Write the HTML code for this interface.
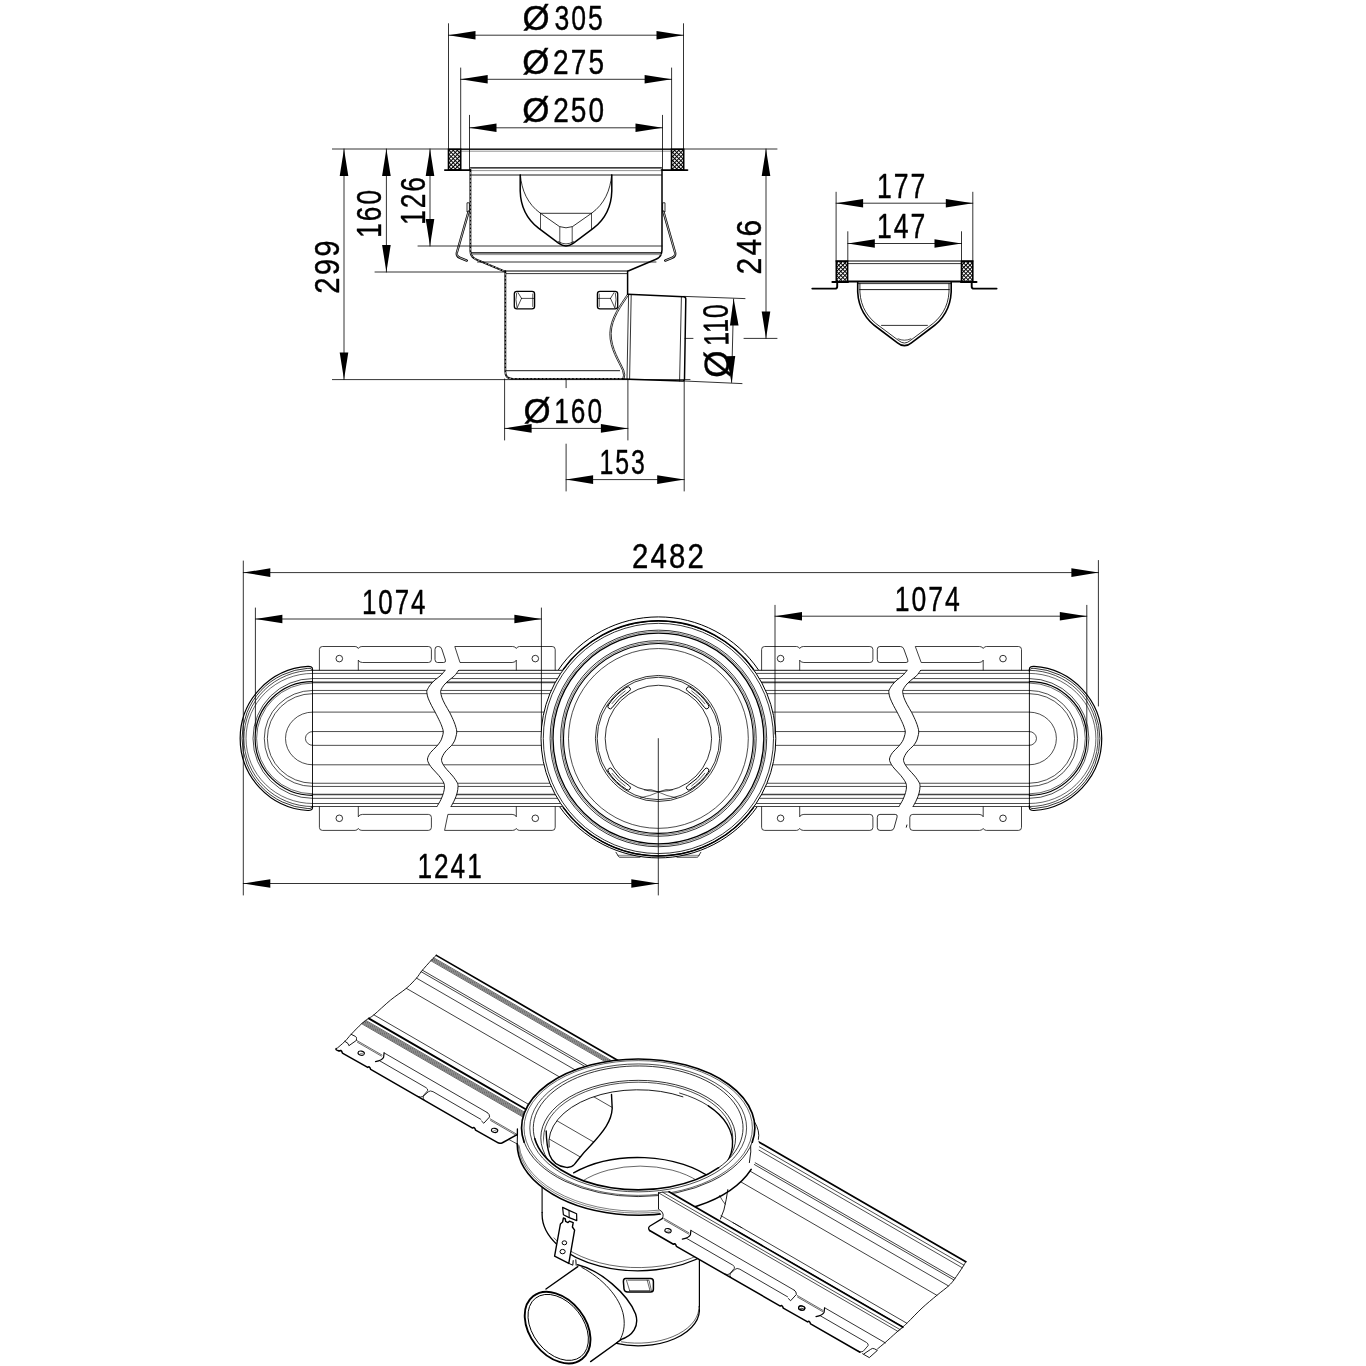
<!DOCTYPE html>
<html lang="en">
<head>
<meta charset="utf-8">
<title>Technical drawing</title>
<style>
html,body{margin:0;padding:0;background:#fff;}
body{width:1366px;height:1366px;overflow:hidden;}
svg{display:block;will-change:transform;}
.t{font-family:"Liberation Sans",sans-serif;font-size:35px;fill:#000;stroke:#000;stroke-width:0.4px;stroke-linejoin:round;}
.k{stroke:#000;fill:none;stroke-linecap:round;stroke-linejoin:round;}
.c{stroke:#000;fill:none;}
.a{fill:#000;stroke:none;}
</style>
</head>
<body>
<svg width="1366" height="1366" viewBox="0 0 1366 1366">
<defs>
<pattern id="hx" width="2.9" height="2.9" patternUnits="userSpaceOnUse" patternTransform="rotate(45)">
<path d="M0,0.5H2.9M0.5,0V2.9" stroke="#000" stroke-width="1.05" fill="none"/>
</pattern>
</defs>
<rect width="1366" height="1366" fill="#fff"/>
<g id="section">
<path class="k" d="M460.8,149.3L671.4,149.3" stroke-width="1"/>
<path class="k" d="M460.8,151.2L671.4,151.2" stroke-width="0.8" style="stroke:#777"/>
<rect x="448.5" y="149.3" width="12.2" height="20.6" fill="url(#hx)" stroke="#000" stroke-width="1.6"/>
<rect x="671.5" y="149.3" width="12.2" height="20.6" fill="url(#hx)" stroke="#000" stroke-width="1.6"/>
<path class="k" d="M444.9,170.1L470.5,170.1" stroke-width="1.9"/>
<path class="k" d="M661.5,170.1L687.4,170.1" stroke-width="1.9"/>
<path class="k" d="M470.5,167.9L661.5,167.9" stroke-width="1.2"/>
<path class="k" d="M470.5,170.6L661.5,170.6" stroke-width="0.9" style="stroke:#888"/>
<path class="k" d="M471.5,175L661.5,175" stroke-width="0.9"/>
<path class="k" d="M470.4,170 L470.4,251 Q470.6,257 476,259.3 L504.6,271.3 L505.3,271.3 L505.3,371.5 Q505.5,378.9 513,378.9 L622.5,378.9" stroke-width="1.9"/>
<path class="k" d="M470.4,172 L470.4,251 Q470.6,257 476,259.3 L504.6,271.3 M505.3,273 L505.3,371.5 Q505.5,378.9 513,378.9 L622,378.9" stroke-width="0.6" style="stroke:#fff;stroke-dasharray:2.4 1.4;stroke-linecap:butt"/>
<path class="k" d="M662,170 L662,250 Q661.8,257 656,259.3 L627.6,271.2 L627.6,294.2" stroke-width="1.5"/>
<path class="k" d="M471.5,252.9L661.5,252.9" stroke-width="1.3"/>
<path class="k" d="M471.5,254.6L661.5,254.6" stroke-width="0.8" style="stroke:#777"/>
<path class="k" d="M477.5,262L656,262" stroke-width="0.8"/>
<path class="k" d="M505.3,271L627.6,271" stroke-width="1"/>
<path class="k" d="M506.3,273.6L627.6,273.6" stroke-width="0.8"/>
<path class="k" d="M506.3,370.7L619.6,370.7" stroke-width="0.9"/>
<path class="k" d="M520.2,175 L520.2,191 C520.6,206 526,218.5 538.5,228.2 L558.5,243.2 Q566,248.6 573.5,243.2 L593.5,228.2 C606,218.5 611.4,206 611.8,191 L611.8,175" stroke-width="1.5"/>
<path class="k" d="M520.4,175 C521.5,190 527.5,204 540.5,213.3 L559.5,226.6 Q566,229 572.5,226.6 L591.5,213.3 C604.5,204 610.5,190 611.6,175" stroke-width="0.8"/>
<path class="k" d="M540.5,213.3L591.5,213.3" stroke-width="0.8"/>
<path class="k" d="M540.5,213.3V229.6M591.5,213.3V229.6M559.8,226.8V243.8M572.2,226.8V243.8" stroke-width="0.7"/>
<path class="k" d="M558.5,241.6 Q566,246.4 573.5,241.6" stroke-width="0.7"/>
<path class="k" d="M467.4,202.8L469.4,202.8L469.4,212L467.4,212Z" stroke-width="0.8"/>
<path class="k" d="M468.6,211.6 L456.9,252.5 Q456.2,256.3 459.5,257.6 L466.8,260.6" stroke-width="2.3"/>
<path class="k" d="M468.6,211.6 L456.9,252.5 Q456.2,256.3 459.5,257.6 L466.8,260.6" stroke-width="0.7" style="stroke:#fff;stroke-linecap:butt"/>
<path class="k" d="M664.6,202.8L662.6,202.8L662.6,212L664.6,212Z" stroke-width="0.8"/>
<path class="k" d="M663.4,211.6 L675.1,252.5 Q675.8,256.3 672.5,257.6 L665.2,260.6" stroke-width="2.3"/>
<path class="k" d="M663.4,211.6 L675.1,252.5 Q675.8,256.3 672.5,257.6 L665.2,260.6" stroke-width="0.7" style="stroke:#fff;stroke-linecap:butt"/>
<rect class="k" x="514.3" y="291.4" width="20.3" height="17.5" rx="2.6" stroke-width="1.3"/>
<path class="k" d="M521.5,298.4 H534 M521.5,298.4 L517.2,307.8 M521.5,298.4 L518,292.6 M532.8,294 V306.5" stroke-width="0.7"/>
<path class="k" d="M516.6,293.2 Q515,299 517,307.5" stroke-width="0.7"/>
<rect class="k" x="597.4" y="291.4" width="20.3" height="17.5" rx="2.6" stroke-width="1.3"/>
<path class="k" d="M610.5,298.4 H598 M610.5,298.4 L614.8,307.8 M610.5,298.4 L614,292.6 M599.2,294 V306.5" stroke-width="0.7"/>
<path class="k" d="M615.4,293.2 Q617,299 615,307.5" stroke-width="0.7"/>
<path class="k" d="M627.6,294.3 L683.6,296.7 Q685.8,296.8 685.8,299 L684.5,379 Q684.4,381.2 682.2,381.1 L622.6,378.9" stroke-width="1.5"/>
<path class="k" d="M681.4,296.8L679.6,381" stroke-width="0.8"/>
<path class="k" d="M628.6,294.3L627,379" stroke-width="0.8"/>
<path class="k" d="M631.2,294.6L629.6,379.2" stroke-width="0.8"/>
<path class="k" d="M627.3,294.5 C621,304 610,318 609.8,333.5 C609.6,349 619,362 622.5,370.5 Q624.5,375.5 622.8,378.9" stroke-width="0.8"/>
<path class="k" d="M628.3,295.5 C622,305 611.4,318.5 611.2,333.5 C611,348.5 620.2,361.5 623.8,370.2 Q625.6,375 624.2,378.9" stroke-width="0.8"/>
</g>
<g id="small">
<path class="k" d="M836.1,261L972.8,261" stroke-width="1"/>
<path class="k" d="M847.8,263.6L961.5,263.6" stroke-width="0.8"/>
<rect x="836.3" y="261.2" width="11.3" height="20.6" fill="url(#hx)" stroke="#000" stroke-width="1.6"/>
<rect x="961.5" y="261.2" width="11.3" height="20.6" fill="url(#hx)" stroke="#000" stroke-width="1.6"/>
<path class="k" d="M847.8,281.4L961.5,281.4" stroke-width="2"/>
<path class="k" d="M832.3,282 H848" stroke-width="1.8"/>
<path class="k" d="M837.2,282.5 V286.4 Q837.2,288.6 835,288.6 H812.3" stroke-width="1.9"/>
<path class="k" d="M976.6,282 H960.9" stroke-width="1.8"/>
<path class="k" d="M971.7,282.5 V286.4 Q971.7,288.6 973.9,288.6 H996.6" stroke-width="1.9"/>
<path class="k" d="M857.6,283.6L951.3,283.6" stroke-width="0.8"/>
<path class="k" d="M859.6,289.6L949.3,289.6" stroke-width="0.9"/>
<path class="k" d="M857.7,282.5 L857.7,292 C858.5,308 866,320 878.5,328.5 L897.5,342.8 Q904.45,348.6 911.4,342.8 L930.4,328.5 C942.9,320 950.4,308 951.2,292 L951.2,282.5" stroke-width="1.6"/>
<path class="k" d="M859.9,283.6 L859.9,292 C860.7,307 868,318.4 880,326.6 L898.7,340.6 Q904.45,345.4 910.2,340.6 L928.9,326.6 C940.9,318.4 948.2,307 949,292 L949,283.6" stroke-width="0.8"/>
<path class="k" d="M881.5,325.4L927.4,325.4" stroke-width="0.8"/>
<path class="k" d="M898,338.8 Q904.45,341.8 910.9,338.8" stroke-width="0.7"/>
</g>
<g id="plan">
<path class="k" d="M312.5,670.35L1029.4,670.35" stroke-width="1.1" style="stroke:#444"/>
<path class="k" d="M312.5,806.55L1029.4,806.55" stroke-width="1.1" style="stroke:#444"/>
<path class="k" d="M312.5,673.4L1029.4,673.4" stroke-width="0.7"/>
<path class="k" d="M312.5,803.5L1029.4,803.5" stroke-width="0.7"/>
<path class="k" d="M312.5,678.55L1029.4,678.55" stroke-width="0.7"/>
<path class="k" d="M312.5,798.35L1029.4,798.35" stroke-width="0.7"/>
<path class="k" d="M312.5,682.35L1029.4,682.35" stroke-width="1.6" style="stroke:#444"/>
<path class="k" d="M312.5,794.55L1029.4,794.55" stroke-width="1.6" style="stroke:#444"/>
<path class="k" d="M312.5,690.45L1029.4,690.45" stroke-width="0.7"/>
<path class="k" d="M312.5,786.45L1029.4,786.45" stroke-width="0.7"/>
<path class="k" d="M312.5,693.65L1029.4,693.65" stroke-width="0.7"/>
<path class="k" d="M312.5,783.25L1029.4,783.25" stroke-width="0.7"/>
<path class="k" d="M312.5,712.1L1029.4,712.1" stroke-width="0.7"/>
<path class="k" d="M312.5,764.8L1029.4,764.8" stroke-width="0.7"/>
<path class="k" d="M312.5,731.55L1029.4,731.55" stroke-width="0.7"/>
<path class="k" d="M312.5,745.35L1029.4,745.35" stroke-width="0.7"/>
<path class="k" d="M312.5,670.35A68.6,68.1 0 0 0 312.5,806.55" stroke-width="0.7"/>
<path class="k" d="M312.5,673.4A66.5,65.05 0 0 0 312.5,803.5" stroke-width="0.6"/>
<path class="k" d="M312.5,678.55A59.5,59.9 0 0 0 312.5,798.35" stroke-width="0.7"/>
<path class="k" d="M312.5,681.55A57.4,56.9 0 0 0 312.5,795.35" stroke-width="1.2"/>
<path class="k" d="M312.5,683.05A55.9,55.4 0 0 0 312.5,793.85" stroke-width="0.6"/>
<path class="k" d="M312.5,690.45A48.2,48 0 0 0 312.5,786.45" stroke-width="0.7"/>
<path class="k" d="M312.5,693.65A45.2,44.8 0 0 0 312.5,783.25" stroke-width="0.7"/>
<path class="k" d="M312.5,712.1A27,26.35 0 0 0 312.5,764.8" stroke-width="0.7"/>
<path class="k" d="M312.5,731.55A7.1,6.9 0 0 0 312.5,745.35" stroke-width="0.7"/>
<path class="k" d="M312.5,670.95 V669.25 Q312.5,666.25 307.9,666.4 A72.4,72.2 0 0 0 307.9,810.5 Q312.5,810.65 312.5,807.65 V805.95" stroke-width="1.2"/>
<path class="k" d="M312.5,670.95 V671.15 Q312.5,668.15 307.9,668.3 A70.5,70.3 0 0 0 307.9,808.6 Q312.5,808.75 312.5,805.75 V805.95" stroke-width="0.8"/>
<path class="k" d="M312.5,669.45L312.5,807.45" stroke-width="0.9"/>
<path class="k" d="M1029.4,670.35A68.6,68.1 0 0 1 1029.4,806.55" stroke-width="0.7"/>
<path class="k" d="M1029.4,673.4A66.5,65.05 0 0 1 1029.4,803.5" stroke-width="0.6"/>
<path class="k" d="M1029.4,678.55A59.5,59.9 0 0 1 1029.4,798.35" stroke-width="0.7"/>
<path class="k" d="M1029.4,681.55A57.4,56.9 0 0 1 1029.4,795.35" stroke-width="1.2"/>
<path class="k" d="M1029.4,683.05A55.9,55.4 0 0 1 1029.4,793.85" stroke-width="0.6"/>
<path class="k" d="M1029.4,690.45A48.2,48 0 0 1 1029.4,786.45" stroke-width="0.7"/>
<path class="k" d="M1029.4,693.65A45.2,44.8 0 0 1 1029.4,783.25" stroke-width="0.7"/>
<path class="k" d="M1029.4,712.1A27,26.35 0 0 1 1029.4,764.8" stroke-width="0.7"/>
<path class="k" d="M1029.4,731.55A7.1,6.9 0 0 1 1029.4,745.35" stroke-width="0.7"/>
<path class="k" d="M1029.4,670.95 V669.25 Q1029.4,666.25 1034,666.4 A72.4,72.2 0 0 1 1034,810.5 Q1029.4,810.65 1029.4,807.65 V805.95" stroke-width="1.2"/>
<path class="k" d="M1029.4,670.95 V671.15 Q1029.4,668.15 1034,668.3 A70.5,70.3 0 0 1 1034,808.6 Q1029.4,808.75 1029.4,805.75 V805.95" stroke-width="0.8"/>
<path class="k" d="M1029.4,669.45L1029.4,807.45" stroke-width="0.9"/>
<path d="M446.3,668.7C446.1,668.97 445.98,669.22 445.1,670.3C444.22,671.38 442.67,673.6 441,675.2C439.33,676.8 436.85,678.33 435.1,679.9C433.35,681.47 431.82,682.93 430.5,684.6C429.18,686.27 427.8,688.53 427.2,689.9C426.6,691.27 426.75,691.43 426.9,692.8C427.05,694.17 427.32,695.95 428.1,698.1C428.88,700.25 430.43,703.37 431.6,705.7C432.77,708.03 433.73,709.47 435.1,712.1C436.47,714.73 438.62,718.97 439.8,721.5C440.98,724.03 441.62,725.55 442.2,727.3C442.78,729.05 443.3,730.38 443.3,732C443.3,733.62 442.68,735.43 442.2,737C441.72,738.57 441.38,739.78 440.4,741.4C439.42,743.02 437.95,744.83 436.3,746.7C434.65,748.57 431.97,750.55 430.5,752.6C429.03,754.65 427.7,757.05 427.5,759C427.3,760.95 428.42,762.63 429.3,764.3C430.18,765.97 431.23,767.15 432.8,769C434.37,770.85 436.95,773.25 438.7,775.4C440.45,777.55 442.33,780.05 443.3,781.9C444.27,783.75 444.45,784.75 444.5,786.5C444.55,788.25 444.18,790.25 443.6,792.4C443.02,794.55 442.12,797.03 441,799.4C439.88,801.77 437.73,805.13 436.9,806.6C436.07,808.07 436.15,807.93 436,808.2L450.1,808.2C450.25,807.93 450.27,807.97 451,806.6C451.73,805.23 453.48,802.27 454.5,800C455.52,797.73 456.52,795.25 457.1,793C457.68,790.75 458,788.27 458,786.5C458,784.73 457.98,784.15 457.1,782.4C456.22,780.65 454.4,778.13 452.7,776C451,773.87 448.52,771.55 446.9,769.6C445.28,767.65 443.88,766.07 443,764.3C442.12,762.53 441.25,761.05 441.6,759C441.95,756.95 443.45,754.25 445.1,752C446.75,749.75 449.93,747.35 451.5,745.5C453.07,743.65 453.78,742.32 454.5,740.9C455.22,739.48 455.42,738.48 455.8,737C456.18,735.52 456.78,733.62 456.8,732C456.82,730.38 456.38,729.05 455.9,727.3C455.42,725.55 454.92,723.93 453.9,721.5C452.88,719.07 451.27,715.53 449.8,712.7C448.33,709.87 446.42,707.03 445.1,704.5C443.78,701.97 442.63,699.55 441.9,697.5C441.17,695.45 440.85,693.47 440.7,692.2C440.55,690.93 440.47,691.07 441,689.9C441.53,688.73 442.63,686.77 443.9,685.2C445.17,683.63 446.83,682.07 448.6,680.5C450.37,678.93 452.83,677.5 454.5,675.8C456.17,674.1 457.72,671.48 458.6,670.3C459.48,669.12 459.6,668.97 459.8,668.7Z" fill="#fff" stroke="none"/>
<path class="k" d="M445.1,670.3C444.42,671.12 442.67,673.6 441,675.2C439.33,676.8 436.85,678.33 435.1,679.9C433.35,681.47 431.82,682.93 430.5,684.6C429.18,686.27 427.8,688.53 427.2,689.9C426.6,691.27 426.75,691.43 426.9,692.8C427.05,694.17 427.32,695.95 428.1,698.1C428.88,700.25 430.43,703.37 431.6,705.7C432.77,708.03 433.73,709.47 435.1,712.1C436.47,714.73 438.62,718.97 439.8,721.5C440.98,724.03 441.62,725.55 442.2,727.3C442.78,729.05 443.3,730.38 443.3,732C443.3,733.62 442.68,735.43 442.2,737C441.72,738.57 441.38,739.78 440.4,741.4C439.42,743.02 437.95,744.83 436.3,746.7C434.65,748.57 431.97,750.55 430.5,752.6C429.03,754.65 427.7,757.05 427.5,759C427.3,760.95 428.42,762.63 429.3,764.3C430.18,765.97 431.23,767.15 432.8,769C434.37,770.85 436.95,773.25 438.7,775.4C440.45,777.55 442.33,780.05 443.3,781.9C444.27,783.75 444.45,784.75 444.5,786.5C444.55,788.25 444.18,790.25 443.6,792.4C443.02,794.55 442.12,797.03 441,799.4C439.88,801.77 437.58,805.4 436.9,806.6" stroke-width="0.9"/>
<path class="k" d="M458.6,670.3C457.92,671.22 456.17,674.1 454.5,675.8C452.83,677.5 450.37,678.93 448.6,680.5C446.83,682.07 445.17,683.63 443.9,685.2C442.63,686.77 441.53,688.73 441,689.9C440.47,691.07 440.55,690.93 440.7,692.2C440.85,693.47 441.17,695.45 441.9,697.5C442.63,699.55 443.78,701.97 445.1,704.5C446.42,707.03 448.33,709.87 449.8,712.7C451.27,715.53 452.88,719.07 453.9,721.5C454.92,723.93 455.42,725.55 455.9,727.3C456.38,729.05 456.82,730.38 456.8,732C456.78,733.62 456.18,735.52 455.8,737C455.42,738.48 455.22,739.48 454.5,740.9C453.78,742.32 453.07,743.65 451.5,745.5C449.93,747.35 446.75,749.75 445.1,752C443.45,754.25 441.95,756.95 441.6,759C441.25,761.05 442.12,762.53 443,764.3C443.88,766.07 445.28,767.65 446.9,769.6C448.52,771.55 451,773.87 452.7,776C454.4,778.13 456.22,780.65 457.1,782.4C457.98,784.15 458,784.73 458,786.5C458,788.27 457.68,790.75 457.1,793C456.52,795.25 455.52,797.73 454.5,800C453.48,802.27 451.58,805.5 451,806.6" stroke-width="0.9"/>
<path d="M908.3,668.7C908.1,668.97 907.98,669.22 907.1,670.3C906.22,671.38 904.67,673.6 903,675.2C901.33,676.8 898.85,678.33 897.1,679.9C895.35,681.47 893.82,682.93 892.5,684.6C891.18,686.27 889.8,688.53 889.2,689.9C888.6,691.27 888.75,691.43 888.9,692.8C889.05,694.17 889.32,695.95 890.1,698.1C890.88,700.25 892.43,703.37 893.6,705.7C894.77,708.03 895.73,709.47 897.1,712.1C898.47,714.73 900.62,718.97 901.8,721.5C902.98,724.03 903.62,725.55 904.2,727.3C904.78,729.05 905.3,730.38 905.3,732C905.3,733.62 904.68,735.43 904.2,737C903.72,738.57 903.38,739.78 902.4,741.4C901.42,743.02 899.95,744.83 898.3,746.7C896.65,748.57 893.97,750.55 892.5,752.6C891.03,754.65 889.7,757.05 889.5,759C889.3,760.95 890.42,762.63 891.3,764.3C892.18,765.97 893.23,767.15 894.8,769C896.37,770.85 898.95,773.25 900.7,775.4C902.45,777.55 904.33,780.05 905.3,781.9C906.27,783.75 906.45,784.75 906.5,786.5C906.55,788.25 906.18,790.25 905.6,792.4C905.02,794.55 904.12,797.03 903,799.4C901.88,801.77 899.73,805.13 898.9,806.6C898.07,808.07 898.15,807.93 898,808.2L912.1,808.2C912.25,807.93 912.27,807.97 913,806.6C913.73,805.23 915.48,802.27 916.5,800C917.52,797.73 918.52,795.25 919.1,793C919.68,790.75 920,788.27 920,786.5C920,784.73 919.98,784.15 919.1,782.4C918.22,780.65 916.4,778.13 914.7,776C913,773.87 910.52,771.55 908.9,769.6C907.28,767.65 905.88,766.07 905,764.3C904.12,762.53 903.25,761.05 903.6,759C903.95,756.95 905.45,754.25 907.1,752C908.75,749.75 911.93,747.35 913.5,745.5C915.07,743.65 915.78,742.32 916.5,740.9C917.22,739.48 917.42,738.48 917.8,737C918.18,735.52 918.78,733.62 918.8,732C918.82,730.38 918.38,729.05 917.9,727.3C917.42,725.55 916.92,723.93 915.9,721.5C914.88,719.07 913.27,715.53 911.8,712.7C910.33,709.87 908.42,707.03 907.1,704.5C905.78,701.97 904.63,699.55 903.9,697.5C903.17,695.45 902.85,693.47 902.7,692.2C902.55,690.93 902.47,691.07 903,689.9C903.53,688.73 904.63,686.77 905.9,685.2C907.17,683.63 908.83,682.07 910.6,680.5C912.37,678.93 914.83,677.5 916.5,675.8C918.17,674.1 919.72,671.48 920.6,670.3C921.48,669.12 921.6,668.97 921.8,668.7Z" fill="#fff" stroke="none"/>
<path class="k" d="M907.1,670.3C906.42,671.12 904.67,673.6 903,675.2C901.33,676.8 898.85,678.33 897.1,679.9C895.35,681.47 893.82,682.93 892.5,684.6C891.18,686.27 889.8,688.53 889.2,689.9C888.6,691.27 888.75,691.43 888.9,692.8C889.05,694.17 889.32,695.95 890.1,698.1C890.88,700.25 892.43,703.37 893.6,705.7C894.77,708.03 895.73,709.47 897.1,712.1C898.47,714.73 900.62,718.97 901.8,721.5C902.98,724.03 903.62,725.55 904.2,727.3C904.78,729.05 905.3,730.38 905.3,732C905.3,733.62 904.68,735.43 904.2,737C903.72,738.57 903.38,739.78 902.4,741.4C901.42,743.02 899.95,744.83 898.3,746.7C896.65,748.57 893.97,750.55 892.5,752.6C891.03,754.65 889.7,757.05 889.5,759C889.3,760.95 890.42,762.63 891.3,764.3C892.18,765.97 893.23,767.15 894.8,769C896.37,770.85 898.95,773.25 900.7,775.4C902.45,777.55 904.33,780.05 905.3,781.9C906.27,783.75 906.45,784.75 906.5,786.5C906.55,788.25 906.18,790.25 905.6,792.4C905.02,794.55 904.12,797.03 903,799.4C901.88,801.77 899.58,805.4 898.9,806.6" stroke-width="0.9"/>
<path class="k" d="M920.6,670.3C919.92,671.22 918.17,674.1 916.5,675.8C914.83,677.5 912.37,678.93 910.6,680.5C908.83,682.07 907.17,683.63 905.9,685.2C904.63,686.77 903.53,688.73 903,689.9C902.47,691.07 902.55,690.93 902.7,692.2C902.85,693.47 903.17,695.45 903.9,697.5C904.63,699.55 905.78,701.97 907.1,704.5C908.42,707.03 910.33,709.87 911.8,712.7C913.27,715.53 914.88,719.07 915.9,721.5C916.92,723.93 917.42,725.55 917.9,727.3C918.38,729.05 918.82,730.38 918.8,732C918.78,733.62 918.18,735.52 917.8,737C917.42,738.48 917.22,739.48 916.5,740.9C915.78,742.32 915.07,743.65 913.5,745.5C911.93,747.35 908.75,749.75 907.1,752C905.45,754.25 903.95,756.95 903.6,759C903.25,761.05 904.12,762.53 905,764.3C905.88,766.07 907.28,767.65 908.9,769.6C910.52,771.55 913,773.87 914.7,776C916.4,778.13 918.22,780.65 919.1,782.4C919.98,784.15 920,784.73 920,786.5C920,788.27 919.68,790.75 919.1,793C918.52,795.25 917.52,797.73 916.5,800C915.48,802.27 913.58,805.5 913,806.6" stroke-width="0.9"/>
<path class="k" d="M319.4,670 V649.5 Q319.4,646.5 322.4,646.5 H355.1Q357.4,646.5 358.3,648.5 Q359.2,646.5 361.9,646.5H428.4 Q431.4,646.5 431.4,649.5 V659.5 Q431.4,662.5 428.4,662.5 H362.5Q359.1,662.5 358.3,660.1 V670" stroke-width="0.75"/>
<circle class="c" cx="339.3" cy="658.6" r="3.3" stroke-width="0.8"/>
<path class="k" d="M555.2,670 V649.5 Q555.2,646.5 552.2,646.5 H519.5Q517.2,646.5 516.3,648.5 Q515.4,646.5 512.7,646.5H454.8 L460,662.5H512.1 Q515.5,662.5 516.3,660.1 V670" stroke-width="0.75"/>
<circle class="c" cx="535.3" cy="658.6" r="3.3" stroke-width="0.8"/>
<path class="k" d="M435,649.1Q435,646.5 437.6,646.5L438.4,646.5Q441,646.5 441.8,648.97L445.4,660.03Q446.2,662.5 443.6,662.5L437.6,662.5Q435,662.5 435,659.9Z" stroke-width="0.8"/>
<path class="k" d="M761.6,670 V649.5 Q761.6,646.5 764.6,646.5 H796.5Q798.8,646.5 799.7,648.5 Q800.6,646.5 803.3,646.5H869.9 Q872.9,646.5 872.9,649.5 V659.5 Q872.9,662.5 869.9,662.5 H803.9Q800.5,662.5 799.7,660.1 V670" stroke-width="0.75"/>
<circle class="c" cx="780.6" cy="658.6" r="3.3" stroke-width="0.8"/>
<path class="k" d="M877.3,649.1Q877.3,646.5 879.9,646.5L900.3,646.5Q902.9,646.5 903.79,648.94L907.81,660.06Q908.7,662.5 906.1,662.5L879.9,662.5Q877.3,662.5 877.3,659.9Z" stroke-width="0.8"/>
<path class="k" d="M1021.5,670 V649.5 Q1021.5,646.5 1018.5,646.5 H986.4Q984.1,646.5 983.2,648.5 Q982.3,646.5 979.6,646.5H915.3 L921.2,662.5H979 Q982.4,662.5 983.2,660.1 V670" stroke-width="0.75"/>
<circle class="c" cx="1003" cy="658.6" r="3.3" stroke-width="0.8"/>
<path class="k" d="M319.4,806.9 V827.4 Q319.4,830.4 322.4,830.4 H355.1Q357.4,830.4 358.3,828.4 Q359.2,830.4 361.9,830.4H428.4 Q431.4,830.4 431.4,827.4 V817.4 Q431.4,814.4 428.4,814.4 H362.5Q359.1,814.4 358.3,816.8 V806.9" stroke-width="0.75"/>
<circle class="c" cx="339.3" cy="818.3" r="3.3" stroke-width="0.8"/>
<path class="k" d="M555.2,806.9 V827.4 Q555.2,830.4 552.2,830.4 H519.5Q517.2,830.4 516.3,828.4 Q515.4,830.4 512.7,830.4H444.6 L447.9,814.4H512.1 Q515.5,814.4 516.3,816.8 V806.9" stroke-width="0.75"/>
<circle class="c" cx="535.3" cy="818.3" r="3.3" stroke-width="0.8"/>
<path class="k" d="M761.6,806.9 V827.4 Q761.6,830.4 764.6,830.4 H796.5Q798.8,830.4 799.7,828.4 Q800.6,830.4 803.3,830.4H869.9 Q872.9,830.4 872.9,827.4 V817.4 Q872.9,814.4 869.9,814.4 H803.9Q800.5,814.4 799.7,816.8 V806.9" stroke-width="0.75"/>
<circle class="c" cx="780.6" cy="818.3" r="3.3" stroke-width="0.8"/>
<path class="k" d="M877.3,827.8Q877.3,830.4 879.9,830.4L890.8,830.4Q893.4,830.4 894.09,827.89L897.11,816.91Q897.8,814.4 895.2,814.4L879.9,814.4Q877.3,814.4 877.3,817Z" stroke-width="0.8"/>
<path class="k" d="M906.3,827.2L906.9,825" stroke-width="0.9"/>
<path class="k" d="M1021.5,806.9 V827.4 Q1021.5,830.4 1018.5,830.4 H986.4Q984.1,830.4 983.2,828.4 Q982.3,830.4 979.6,830.4H912.8 Q909.8,830.4 909.8,827.4 V817.4 Q909.8,814.4 912.8,814.4H979 Q982.4,814.4 983.2,816.8 V806.9" stroke-width="0.75"/>
<circle class="c" cx="1003" cy="818.3" r="3.3" stroke-width="0.8"/>
<circle cx="658.4" cy="738.45" r="117.4" fill="#fff" stroke="none"/>
<path class="k" d="M558.54,669.6A120.7,120.7 0 0 1 758.26,669.6" stroke-width="1"/>
<path class="k" d="M560,807.3A120.7,120.7 0 0 0 756.8,807.3" stroke-width="1"/>
<path class="k" d="M563.26,669.33A117.6,117.6 0 0 1 753.54,669.33" stroke-width="1.5"/>
<path class="k" d="M563.26,807.57A117.6,117.6 0 0 0 753.54,807.57" stroke-width="1.5"/>
<circle class="c" cx="658.4" cy="738.45" r="117.4" stroke-width="1"/>
<circle class="c" cx="658.4" cy="738.45" r="115.1" stroke-width="0.8"/>
<circle class="c" cx="658.4" cy="738.45" r="108.3" stroke-width="0.8"/>
<circle class="c" cx="658.4" cy="738.45" r="106.9" stroke-width="0.5"/>
<circle class="c" cx="658.4" cy="738.45" r="105.4" stroke-width="1.3"/>
<circle class="c" cx="658.4" cy="738.45" r="97.8" stroke-width="0.8"/>
<circle class="c" cx="658.4" cy="738.45" r="96.3" stroke-width="0.5"/>
<circle class="c" cx="658.4" cy="738.45" r="94.9" stroke-width="1.1"/>
<circle class="c" cx="658.4" cy="738.45" r="89.9" stroke-width="0.7"/>
<circle class="c" cx="658.4" cy="738.45" r="63" stroke-width="0.8"/>
<circle class="c" cx="658.4" cy="738.45" r="61.2" stroke-width="0.8"/>
<circle class="c" cx="658.4" cy="738.45" r="53.2" stroke-width="0.8"/>
<path class="k" d="M608.2,705.22 A60.2,60.2 0 0 1 626.95,687.12A2.3,2.3 0 0 1 629.35,691.04A55.6,55.6 0 0 0 612.04,707.76A2.3,2.3 0 0 1 608.2,705.22 Z" stroke-width="1"/><path class="k" d="M612.04,703.6 A58,58 0 0 1 625.18,690.9" stroke-width="0.6"/>
<path class="k" d="M608.2,771.68 A60.2,60.2 0 0 0 626.95,789.78A2.3,2.3 0 0 0 629.35,785.86A55.6,55.6 0 0 1 612.04,769.14A2.3,2.3 0 0 0 608.2,771.68 Z" stroke-width="1"/><path class="k" d="M612.04,773.3 A58,58 0 0 0 625.18,786" stroke-width="0.6"/>
<path class="k" d="M708.6,705.22 A60.2,60.2 0 0 0 689.85,687.12A2.3,2.3 0 0 0 687.45,691.04A55.6,55.6 0 0 1 704.76,707.76A2.3,2.3 0 0 0 708.6,705.22 Z" stroke-width="1"/><path class="k" d="M704.76,703.6 A58,58 0 0 0 691.62,690.9" stroke-width="0.6"/>
<path class="k" d="M708.6,771.68 A60.2,60.2 0 0 1 689.85,789.78A2.3,2.3 0 0 1 687.45,785.86A55.6,55.6 0 0 0 704.76,769.14A2.3,2.3 0 0 1 708.6,771.68 Z" stroke-width="1"/><path class="k" d="M704.76,773.3 A58,58 0 0 1 691.62,786" stroke-width="0.6"/>
<path class="k" d="M640.4,797.85 Q650.4,796.05 658.4,792.05 T672.4,789.85" stroke-width="0.6"/>
<path class="k" d="M676.4,797.85 Q666.4,796.05 658.4,792.05 T644.4,789.85" stroke-width="0.6"/>
<path class="k" d="M616,852.3 L618.6,856.6 Q619,857.2 620,857.2 H640" stroke-width="0.8"/>
<path class="k" d="M700.8,852.3 L698.2,856.6 Q697.8,857.2 696.8,857.2 H677" stroke-width="0.8"/>
<path class="k" d="M618,855.3 H634 M699,855.3 H683" stroke-width="0.5"/>
</g>
<g id="iso">
<path class="k" d="M436.3,955.37L965.77,1261.72" stroke-width="1.7"/>
<path class="k" d="M433.8,957.82L640,1077.13" stroke-width="0.6"/>
<path class="k" d="M433.06,958.55L640,1078.28" stroke-width="0.6"/>
<path class="k" d="M432.32,959.27L640,1079.43" stroke-width="0.6"/>
<path class="k" d="M431.58,959.99L640,1080.58" stroke-width="0.6"/>
<path class="k" d="M430.87,960.73L640,1081.73" stroke-width="0.6"/>
<path class="k" d="M422.42,970.24L954.99,1278.38" stroke-width="0.75"/>
<path class="k" d="M421.19,971.73L953.82,1279.91" stroke-width="0.75"/>
<path class="k" d="M416.5,978.12L948.53,1285.95" stroke-width="0.75"/>
<path class="k" d="M406.3,988.32L936.9,1295.32" stroke-width="0.75"/>
<path class="k" d="M373.9,1014.87L906.86,1323.24" stroke-width="0.75"/>
<path class="k" d="M368.7,1018.36L902.5,1327.22" stroke-width="1.8"/>
<path class="k" d="M365.93,1020.46L640,1179.03" stroke-width="0.6"/>
<path class="k" d="M365.08,1021.11L640,1180.18" stroke-width="0.6"/>
<path class="k" d="M364.22,1021.77L640,1181.33" stroke-width="0.6"/>
<path class="k" d="M363.36,1022.42L640,1182.48" stroke-width="0.6"/>
<path class="k" d="M362.5,1023.07L640,1183.63" stroke-width="0.6"/>
<path class="k" d="M361.67,1023.7L640,1184.73" stroke-width="0.6"/>
<path class="k" d="M700,1112.45L963.82,1265.09" stroke-width="0.7"/>
<path class="k" d="M700,1116.05L962.21,1267.76" stroke-width="0.7"/>
<path class="k" d="M436.3,955.37C435.43,956.22 433.55,957.83 431.1,960.46C428.65,963.1 424.03,968.23 421.6,971.17C419.17,974.11 419.05,975.26 416.5,978.12C413.95,980.97 410.62,984.66 406.3,988.32C401.98,991.97 396,995.61 390.6,1000.03C385.2,1004.46 377.55,1011.81 373.9,1014.87C370.25,1017.92 370.75,1016.88 368.7,1018.36C366.65,1019.84 364.53,1021.08 361.6,1023.75C358.67,1026.42 353.88,1031.44 351.1,1034.38C348.32,1037.32 347.4,1038.94 344.9,1041.39C342.4,1043.84 337.57,1047.81 336.1,1049.1" stroke-width="0.9"/>
<path class="k" d="M965.9,1261.5C965.35,1262.45 964.52,1264.23 962.6,1267.19C960.68,1270.15 956.73,1276.13 954.4,1279.25C952.07,1282.36 951.52,1283.21 948.6,1285.89C945.68,1288.57 941.33,1291.62 936.9,1295.32C932.47,1299.02 926.88,1303.56 922,1308.1C917.12,1312.64 910.85,1319.38 907.6,1322.57C904.35,1325.75 904.48,1325.46 902.5,1327.22C900.52,1328.97 896.83,1332.1 895.7,1333.08" stroke-width="0.9"/>
<path class="k" d="M384.1,1052.87L487.4,1112.64" stroke-width="0.8"/>
<path class="k" d="M356.6,1040.36L382,1055.06" stroke-width="0.6"/>
<path class="k" d="M357.4,1042.22L381.4,1056.11" stroke-width="0.6"/>
<path class="k" d="M490.2,1118.86L517,1134.37" stroke-width="0.6"/>
<path class="k" d="M490.6,1120.49L517,1135.77" stroke-width="0.6"/>
<path class="k" d="M336.1,1048.5 Q335.6,1049.9 337.2,1050.33 L338.6,1050.84" stroke-width="1.4"/>
<path class="k" d="M338.6,1050.54L339.4,1051.01 L340.7,1050.39 L341.7,1051.39 L342.4,1053.04L367.7,1067.38 L369,1066.76 L370,1067.76 L370.7,1069.42L472.6,1128.08 L473.9,1127.45 L474.9,1128.45 L475.6,1130.11L497.3,1142.37Q499.6,1144.1 502.4,1142.72 L517.1,1134.7" stroke-width="1.5"/>
<path class="k" d="M351.1,1034.3 L355.4,1036.4 Q356.6,1037 356.5,1038.4 L356.4,1040.4 L348.9,1045.7 L348,1043.5 L344.9,1041.3" stroke-width="0.9"/>
<ellipse class="c" cx="361.2" cy="1053.22" rx="3.2" ry="2.1" stroke-width="1.1" transform="rotate(10 361.2 1053.22)"/>
<path class="k" d="M359.6,1054.02 q1.6,-1.4 3.4,-0.2" stroke-width="0.5"/>
<path class="k" d="M384.1,1052.87 L383.6,1057.27 Q382.3,1060.27 375.5,1061.69" stroke-width="1.2"/>
<path class="k" d="M379.8,1060.88 L426,1087.61 Q428.2,1088.89 427.6,1090.79 L422.6,1096.51 Q420.8,1097.7 417.8,1096.37" stroke-width="0.8"/>
<path class="k" d="M424.2,1100.07 Q422.4,1098.06 423.4,1096.26 L428.2,1091.86 Q430,1090.13 433,1091.66 L480.8,1119.32" stroke-width="0.8"/>
<path class="k" d="M487.4,1112.64 Q489.8,1114.23 489.6,1116.91 L483.8,1123.24 L481.6,1121.08" stroke-width="0.9"/>
<ellipse class="c" cx="494.6" cy="1130.41" rx="3.2" ry="2.1" stroke-width="1.1" transform="rotate(10 494.6 1130.41)"/>
<path class="k" d="M493,1131.21 q1.6,-1.4 3.4,-0.2" stroke-width="0.5"/>
<path class="k" d="M508.5,1139.3L517.1,1143.9" stroke-width="0.7"/>
<path class="k" d="M517.4,1129L517.4,1134.8" stroke-width="1.3"/>
<path d="M699.4,1226 L699.4,1309.7 A61.2,36.11 0 0 1 577,1309.7 L577,1226 Z" fill="#fff" stroke="none"/>
<path class="k" d="M699.4,1258.4 L699.4,1306.7" stroke-width="1.2"/>
<path class="k" d="M699.17,1306.55A61.2,36.11 0 0 1 615.27,1343.18" stroke-width="1.3"/>
<path class="k" d="M698.85,1309.62A60.8,36.11 0 0 1 621.44,1341.81" stroke-width="0.6"/>
<path class="k" d="M625.6,1278.6 H650.6 Q653.4,1278.6 653.4,1281.4 V1289.2 Q653.4,1292 650.6,1292 H627.6 Q624.4,1292 624,1289 L623.4,1281.6 Q623.4,1278.6 625.6,1278.6 Z" stroke-width="1.5"/>
<path class="k" d="M626.4,1280.2 L629.6,1290.4 M627.8,1280.2 H649 L651.4,1290.6 M647.2,1280.2 L650,1290.6 M629.4,1290.6 H649.8" stroke-width="0.6"/>
<path d="M544.8,1290.2 L578.2,1267.2 L621,1339 L589.6,1362 Z" fill="#fff" stroke="none"/>
<path class="k" d="M577.6,1264.8 C600,1270 628,1294 635.6,1314 C639.4,1326 633,1336 620.6,1339.6" stroke-width="1.4"/>
<path class="k" d="M581.8,1267.4 C602,1278 620.4,1297 623.6,1316 C625.4,1327 623.0,1334 620.2,1339.6" stroke-width="0.9"/>
<path class="k" d="M620.6,1339.6 L616.0,1343.2" stroke-width="1"/>
<path class="k" d="M546,1289L577.8,1266.6" stroke-width="1.4"/>
<path class="k" d="M590.6,1361.6L621,1339.8" stroke-width="1.4"/>
<ellipse cx="557.6" cy="1327.6" rx="39.8" ry="27.8" transform="rotate(52 557.6 1327.6)" fill="#fff" stroke="#000" stroke-width="1.9"/>
<ellipse class="c" cx="558.2" cy="1327.4" rx="37" ry="25.2" stroke-width="0.9" transform="rotate(52 558.2 1327.4)"/>
<path d="M733.7,1141.8 L733.7,1214.4 A95.5,56.34 0 0 1 542.7,1214.4 L542.7,1141.8 Z" fill="#fff" stroke="none"/>
<path class="k" d="M542.1,1171.8 L542.1,1212.4" stroke-width="1.1"/>
<path class="k" d="M706.15,1254.24A96.1,56.34 0 0 1 542.16,1212.43" stroke-width="1.3"/>
<path class="k" d="M699.59,1254.56A95.5,56.34 0 0 1 553.88,1237.85" stroke-width="0.6"/>
<path class="k" d="M562.6,1207.4 L569.0,1210.4 L576.6,1213.8 L576.8,1220.6 L569.2,1217.6 L563.4,1214.8 Z" stroke-width="1.2" style="fill:#fff"/>
<path class="k" d="M569.0,1210.6 L569.2,1217.6" stroke-width="1"/>
<path class="k" d="M563.4,1218.0 L562.6,1222.0 L560.4,1224.0 L554.6,1256.2 L568.8,1263.4 L574.6,1230.2 L572.4,1227.0 L573.2,1222.6 L569.4,1221.2 L568.0,1222.6 L565.6,1221.4 L565.4,1219.0 Z" stroke-width="1.4" style="fill:#fff"/>
<ellipse class="c" cx="564.4" cy="1242.8" rx="2.3" ry="2" stroke-width="1"/>
<ellipse class="c" cx="562.6" cy="1251.6" rx="2.6" ry="2.2" stroke-width="1"/>
<path class="k" d="M568.8,1263.4 L572.8,1265.2 L573.2,1260.6 M575.8,1259.8 L576.2,1265.2" stroke-width="1"/>
<path d="M521.6,1127.8 A116.6,68.79 0 0 1 754.8,1127.8 L759.2,1143.8 A121,71.39 0 0 1 517.2,1143.8 Z" fill="#fff" stroke="none"/>
<path class="k" d="M751.16,1169.38A121,71.39 0 0 1 517.2,1143.8" stroke-width="1.6"/>
<path class="k" d="M663.19,1211.57A120.2,70.92 0 0 1 518.07,1144.68" stroke-width="0.5"/>
<path class="k" d="M658.93,1210.18A119.4,70.45 0 0 1 519.09,1145.71" stroke-width="0.5"/>
<path class="k" d="M750.6,1141 Q751.6,1152 749.4,1162.6" stroke-width="0.9"/>
<path class="k" d="M727.8,1189.6 Q726.6,1199 723.9,1210 L720.4,1219" stroke-width="0.9"/>
<path class="k" d="M719.6,1195.6 Q722,1200.4 725.2,1204.2" stroke-width="0.7"/>
<path class="k" d="M517.2,1143.8 L517.5,1131.8" stroke-width="1"/>
<path class="k" d="M754.6,1122 Q760.2,1131 758.4,1139.4" stroke-width="0.9"/>
<ellipse cx="638.2" cy="1127.8" rx="116.6" ry="68.79" fill="#fff" stroke="none"/>
<path class="k" d="M524.15,1142.1A116.6,68.79 0 1 1 752.25,1142.1" stroke-width="1.7"/>
<path class="k" d="M752.25,1142.1A116.6,68.79 0 0 1 524.15,1142.1" stroke-width="0.8"/>
<ellipse class="c" cx="638.2" cy="1128" rx="114.2" ry="67.38" stroke-width="0.6"/>
<clipPath id="op"><ellipse cx="638.2" cy="1127.9" rx="105" ry="61.95"/></clipPath>
<g clip-path="url(#op)"><ellipse class="c" cx="638.2" cy="1137.8" rx="97.4" ry="57.47" stroke-width="0.8"/><ellipse class="c" cx="638.2" cy="1138" rx="94.6" ry="55.81" stroke-width="0.7"/><ellipse cx="638.2" cy="1142.5" rx="89.4" ry="52.75" fill="#fff" stroke="none"/><ellipse cx="638.2" cy="1143.1" rx="94.4" ry="55.7" fill="#fff" stroke="none"/><path class="k" d="M549.14,1147.1A89.4,52.75 0 0 1 682.9,1096.82" stroke-width="0.9"/><path class="k" d="M708.35,1105.83A94.4,55.7 0 0 1 698.88,1185.77" stroke-width="1.4"/><path class="k" d="M679.58,1093.04A94.4,55.7 0 0 1 708.35,1105.83" stroke-width="0.8"/><clipPath id="cut"><path d="M611.5,1090 L612.2,1108.4 C611.6,1121 604,1131 589.9,1146.3 C582,1154 577.6,1160.6 574.4,1164.4 Q571.4,1167.8 566.4,1167.4 C559,1166.6 552.4,1162.6 549.6,1155 C547.2,1148 546.4,1140 546.0,1128 L546,1090 Z"/></clipPath><clipPath id="e6"><ellipse cx="638.2" cy="1142.5" rx="89.4" ry="52.75"/></clipPath><g clip-path="url(#e6)"><g clip-path="url(#cut)"><path class="k" d="M540,1065.67L620,1111.96" stroke-width="0.7"/><path class="k" d="M540,1110.97L620,1157.26" stroke-width="0.7"/><path class="k" d="M540,1133.67L620,1179.96" stroke-width="0.7"/></g></g><path class="k" d="M611.5,1094.4 L612.2,1108.4 C611.6,1121 604,1131 589.9,1146.3 C582,1154 577.6,1160.6 574.4,1164.4 Q571.4,1167.8 566.4,1167.4 C559,1166.6 552.4,1162.6 549.6,1155 C547.2,1148 546.4,1140 546.2,1131" stroke-width="1.4"/><path class="k" d="M573.6,1172.93A93,54.87 0 0 1 711.49,1178.62" stroke-width="1.3"/><path class="k" d="M582.23,1181.21A78,46.02 0 0 1 698.17,1181.21" stroke-width="0.6"/></g>
<ellipse class="c" cx="638.2" cy="1127.9" rx="108.4" ry="63.96" stroke-width="0.7"/>
<path class="k" d="M534.8,1138.66A105,61.95 0 1 1 718.63,1167.72" stroke-width="0.8"/>
<path class="k" d="M718.63,1167.72A105,61.95 0 0 1 534.8,1138.66" stroke-width="1.6"/>
<path class="k" d="M721,1215.7L742,1227.85" stroke-width="0.7"/>
<path d="M658.5,1192.8 L669,1191.81 L902.7,1327.03 L869.3,1357.61 L649,1230.14 L648.4,1227.79 L662.6,1217.6 L658.5,1209.4 Z" fill="#fff" stroke="none"/>
<path class="k" d="M658.5,1192.8 L658.5,1209.2 Q662.9,1211.6 663.1,1214.2 Q663.3,1216.6 662.5,1218.2" stroke-width="0.9"/>
<path class="k" d="M669,1191.81L902.7,1327.03" stroke-width="1.7"/>
<path class="k" d="M658.5,1192.8 L662.5,1192.2 L669,1191.81" stroke-width="0.8"/>
<path class="k" d="M662.5,1192.15L899.86,1329.49" stroke-width="0.7"/>
<path class="k" d="M658.5,1192.84L897.78,1331.29" stroke-width="0.7"/>
<path class="k" d="M691.2,1230.56L794.4,1290.27" stroke-width="0.8"/>
<path class="k" d="M825,1307.97L885.4,1342.92" stroke-width="0.8"/>
<path class="k" d="M663.6,1218.19L689,1232.89" stroke-width="0.6"/>
<path class="k" d="M664.2,1219.94L688.6,1234.05" stroke-width="0.6"/>
<path class="k" d="M797.2,1295.49L823,1310.42" stroke-width="0.6"/>
<path class="k" d="M797.6,1297.12L822.6,1311.59" stroke-width="0.6"/>
<path class="k" d="M662.6,1218.4 L650.0,1226.0 Q647.4,1227.8 649.6,1230.49" stroke-width="1.3"/>
<path class="k" d="M649.6,1230.49L673.4,1244.26 L674.7,1243.64 L675.7,1244.64 L676.4,1246.3L780.3,1306.11 L781.6,1305.49 L782.6,1306.49 L783.3,1308.15L807.6,1321.91 L808.9,1321.29 L809.9,1322.29 L810.6,1323.94L860,1352.23" stroke-width="1.5"/>
<ellipse class="c" cx="668" cy="1230.73" rx="3.2" ry="2.1" stroke-width="1.1" transform="rotate(10 668 1230.73)"/>
<path class="k" d="M666.4,1231.53 q1.6,-1.4 3.4,-0.2" stroke-width="0.5"/>
<path class="k" d="M690.9,1230.38 L690.4,1234.78 Q689.1,1237.78 682.3,1239.21" stroke-width="1.2"/>
<path class="k" d="M686.6,1238.4 L732.8,1265.13 Q735,1266.4 734.4,1268.3 L729.4,1274.03 Q727.6,1275.22 724.6,1273.88" stroke-width="0.8"/>
<path class="k" d="M731,1277.59 Q729.2,1275.58 730.2,1273.78 L735,1269.38 Q736.8,1267.64 739.8,1269.18 L787.6,1296.84" stroke-width="0.8"/>
<path class="k" d="M794.2,1290.15 Q796.6,1291.74 796.4,1294.43 L790.6,1300.75 L788.4,1298.6" stroke-width="0.9"/>
<ellipse class="c" cx="801.7" cy="1308.09" rx="3.2" ry="2.1" stroke-width="1.1" transform="rotate(10 801.7 1308.09)"/>
<path class="k" d="M800.1,1308.89 q1.6,-1.4 3.4,-0.2" stroke-width="0.5"/>
<ellipse class="c" cx="801.7" cy="1308.09" rx="3.2" ry="2.1" stroke-width="1.1" transform="rotate(10 801.7 1308.09)"/>
<path class="k" d="M800.1,1308.89 q1.6,-1.4 3.4,-0.2" stroke-width="0.5"/>
<path class="k" d="M824.6,1307.74 L824.1,1312.14 Q822.8,1315.14 816,1316.57" stroke-width="1.2"/>
<path class="k" d="M820.3,1315.76 L866.5,1342.49 Q868.7,1343.76 868.1,1345.66 L863.1,1351.39 Q861.3,1352.58 858.3,1351.24" stroke-width="0.8"/>
<path class="k" d="M864,1353.8 L870.6,1349.4 Q872.4,1347.8 874.4,1348.8 L877.4,1350.4 L869.3,1357.61 L862.6,1353.73" stroke-width="0.9"/>
<path class="k" d="M902.5,1327.22C901.37,1328.19 898.55,1330.56 895.7,1333.08C892.85,1335.6 888.42,1339.7 885.4,1342.32C882.38,1344.94 878.9,1347.73 877.6,1348.81" stroke-width="0.9"/>
</g>
<g id="dims">
<path class="k" d="M448.5,35.2L683.5,35.2" stroke-width="0.8"/><path class="a" d="M448.5,35.2L475.5,30.9L475.5,39.5Z"/><path class="a" d="M683.5,35.2L656.5,39.5L656.5,30.9Z"/>
<path class="k" d="M448.5,23.7L448.5,149" stroke-width="0.8"/>
<path class="k" d="M683.5,23.7L683.5,149" stroke-width="0.8"/>
<text class="t" transform="translate(522.59,30.2) scale(0.76,1)"><tspan textLength="35.67" lengthAdjust="spacingAndGlyphs">Ø</tspan><tspan x="41.92" letter-spacing="2.6">305</tspan></text>
<path class="k" d="M460.7,79.3L671.6,79.3" stroke-width="0.8"/><path class="a" d="M460.7,79.3L487.7,75L487.7,83.6Z"/><path class="a" d="M671.6,79.3L644.6,83.6L644.6,75Z"/>
<path class="k" d="M460.7,68L460.7,149" stroke-width="0.8"/>
<path class="k" d="M671.6,68L671.6,149" stroke-width="0.8"/>
<text class="t" transform="translate(522.19,74.4) scale(0.8,1)"><tspan textLength="33.95" lengthAdjust="spacingAndGlyphs">Ø</tspan><tspan x="38.67" letter-spacing="2.6">275</tspan></text>
<path class="k" d="M469.5,127.8L662.5,127.8" stroke-width="0.8"/><path class="a" d="M469.5,127.8L496.5,123.5L496.5,132.1Z"/><path class="a" d="M662.5,127.8L635.5,132.1L635.5,123.5Z"/>
<path class="k" d="M469.5,115.3L469.5,170" stroke-width="0.8"/>
<path class="k" d="M662.5,115.3L662.5,170" stroke-width="0.8"/>
<text class="t" transform="translate(522.19,122.4) scale(0.8,1)"><tspan textLength="34.01" lengthAdjust="spacingAndGlyphs">Ø</tspan><tspan x="38.74" letter-spacing="2.6">250</tspan></text>
<path class="k" d="M504.6,428.4L627.9,428.4" stroke-width="0.8"/><path class="a" d="M504.6,428.4L531.6,424.1L531.6,432.7Z"/><path class="a" d="M627.9,428.4L600.9,432.7L600.9,424.1Z"/>
<path class="k" d="M504.6,379L504.6,440" stroke-width="0.8"/>
<path class="k" d="M627.9,379L627.9,440" stroke-width="0.8"/>
<text class="t" transform="translate(523.59,423.2) scale(0.75,1)"><tspan textLength="36.2" lengthAdjust="spacingAndGlyphs">Ø</tspan><tspan x="40.96" letter-spacing="2.6">160</tspan></text>
<path class="k" d="M566.1,479.6L684.2,479.6" stroke-width="0.8"/><path class="a" d="M566.1,479.6L593.1,475.3L593.1,483.9Z"/><path class="a" d="M684.2,479.6L657.2,483.9L657.2,475.3Z"/>
<path class="k" d="M566.1,444.1L566.1,491" stroke-width="0.8"/>
<path class="k" d="M566.1,379L566.1,387.7" stroke-width="0.8"/>
<path class="k" d="M684.2,381L684.2,491" stroke-width="0.8"/>
<text class="t" transform="translate(599.61,474) scale(0.71,1)" letter-spacing="2.6">153</text>
<path class="k" d="M332.4,149L777,149" stroke-width="0.8"/>
<path class="k" d="M344,149L344,379.6" stroke-width="0.8"/><path class="a" d="M344,149L348.3,176L339.7,176Z"/><path class="a" d="M344,379.6L339.7,352.6L348.3,352.6Z"/>
<path class="k" d="M332.4,379.6L690,379.6" stroke-width="0.8"/>
<text class="t" transform="translate(339,293.77) rotate(-90) scale(0.84,1)" letter-spacing="2.6">299</text>
<path class="k" d="M386.4,149L386.4,272" stroke-width="0.8"/><path class="a" d="M386.4,149L390.7,176L382.1,176Z"/><path class="a" d="M386.4,272L382.1,245L390.7,245Z"/>
<path class="k" d="M375,272L504.5,272" stroke-width="0.8"/>
<text class="t" transform="translate(381.4,237.69) rotate(-90) scale(0.75,1)" letter-spacing="2.6">160</text>
<path class="k" d="M430,149L430,246" stroke-width="0.8"/><path class="a" d="M430,149L434.3,176L425.7,176Z"/><path class="a" d="M430,246L425.7,219L434.3,219Z"/>
<path class="k" d="M418,246L662,246" stroke-width="0.8"/>
<text class="t" transform="translate(425,224.81) rotate(-90) scale(0.75,1)" letter-spacing="2.6">126</text>
<path class="k" d="M766,149L766,338.4" stroke-width="0.8"/><path class="a" d="M766,149L770.3,176L761.7,176Z"/><path class="a" d="M766,338.4L761.7,311.4L770.3,311.4Z"/>
<path class="k" d="M744,338.4L777,338.4" stroke-width="0.8"/>
<path class="k" d="M685,338.4L693,338.4" stroke-width="0.8"/>
<text class="t" transform="translate(761.2,274.42) rotate(-90) scale(0.86,1)" letter-spacing="2.6">246</text>
<path class="k" d="M733.6,299L731.6,382.4" stroke-width="0.8"/>
<path class="a" d="M733.6,298.5L738.56,325.39L729.96,325.6Z"/>
<path class="a" d="M731.6,383.2L726.64,356.31L735.24,356.1Z"/>
<path class="k" d="M684,296.4L745,298.6" stroke-width="0.8"/>
<path class="k" d="M684,381L742,383.6" stroke-width="0.8"/>
<text class="t" transform="translate(729.18,377.58) rotate(-91.4) scale(0.7,1)"><tspan textLength="38.89" lengthAdjust="spacingAndGlyphs">Ø</tspan><tspan x="45.7" letter-spacing="1.82">110</tspan></text>
<path class="k" d="M836.1,203.2L972.8,203.2" stroke-width="0.8"/><path class="a" d="M836.1,203.2L863.1,198.9L863.1,207.5Z"/><path class="a" d="M972.8,203.2L945.8,207.5L945.8,198.9Z"/>
<path class="k" d="M836.1,192.2L836.1,261" stroke-width="0.8"/>
<path class="k" d="M972.8,192.2L972.8,261" stroke-width="0.8"/>
<text class="t" transform="translate(877.07,198) scale(0.76,1)" letter-spacing="2.6">177</text>
<path class="k" d="M847.8,243.5L961.5,243.5" stroke-width="0.8"/><path class="a" d="M847.8,243.5L874.8,239.2L874.8,247.8Z"/><path class="a" d="M961.5,243.5L934.5,247.8L934.5,239.2Z"/>
<path class="k" d="M847.8,231.7L847.8,261" stroke-width="0.8"/>
<path class="k" d="M961.5,231.7L961.5,261" stroke-width="0.8"/>
<text class="t" transform="translate(877.07,238) scale(0.76,1)" letter-spacing="2.6">147</text>
<path class="k" d="M243.3,572.6L1098.4,572.6" stroke-width="0.8"/><path class="a" d="M243.3,572.6L270.3,568.3L270.3,576.9Z"/><path class="a" d="M1098.4,572.6L1071.4,576.9L1071.4,568.3Z"/>
<path class="k" d="M243.3,561L243.3,895" stroke-width="0.8"/>
<path class="k" d="M1098.4,560.5L1098.4,706" stroke-width="0.8"/>
<text class="t" transform="translate(632.02,568) scale(0.84,1)" letter-spacing="2.6">2482</text>
<path class="k" d="M255.4,619L541.4,619" stroke-width="0.8"/><path class="a" d="M255.4,619L282.4,614.7L282.4,623.3Z"/><path class="a" d="M541.4,619L514.4,623.3L514.4,614.7Z"/>
<path class="k" d="M255.4,608L255.4,730" stroke-width="0.8"/>
<path class="k" d="M541.4,608L541.4,730" stroke-width="0.8"/>
<text class="t" transform="translate(362.02,614.4) scale(0.74,1)" letter-spacing="2.6">1074</text>
<path class="k" d="M775,616.2L1086.8,616.2" stroke-width="0.8"/><path class="a" d="M775,616.2L802,611.9L802,620.5Z"/><path class="a" d="M1086.8,616.2L1059.8,620.5L1059.8,611.9Z"/>
<path class="k" d="M775,605.3L775,734" stroke-width="0.8"/>
<path class="k" d="M1086.8,605.3L1086.8,732" stroke-width="0.8"/>
<text class="t" transform="translate(894.78,610.9) scale(0.76,1)" letter-spacing="2.6">1074</text>
<path class="k" d="M243.3,883.5L658.3,883.5" stroke-width="0.8"/><path class="a" d="M243.3,883.5L270.3,879.2L270.3,887.8Z"/><path class="a" d="M658.3,883.5L631.3,887.8L631.3,879.2Z"/>
<path class="k" d="M658.3,738.6L658.3,895" stroke-width="0.8"/>
<text class="t" transform="translate(417.5,878.4) scale(0.75,1)" letter-spacing="2.6">1241</text>
</g>
</svg>
</body>
</html>
